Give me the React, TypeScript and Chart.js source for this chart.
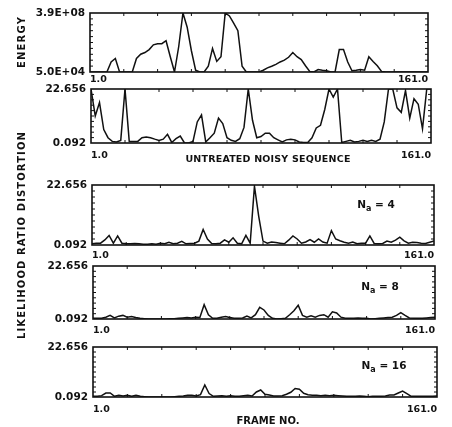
import React, { useEffect, useRef } from 'react';
import { Chart, registerables } from 'chart.js';

Chart.register(...registerables);

const W = 452;
const H = 427;
const FONT = '"DejaVu Sans", sans-serif';
const INK = '#111111';

// frame numbers (every second frame)
const frames = [
  1, 3, 5, 7, 9, 11, 13, 15, 17, 19, 21, 23, 25, 27, 29, 31, 33, 35, 37, 39,
  41, 43, 45, 47, 49, 51, 53, 55, 57, 59, 61, 63, 65, 67, 69, 71, 73, 75, 77, 79,
  81, 83, 85, 87, 89, 91, 93, 95, 97, 99, 101, 103, 105, 107, 109, 111, 113, 115, 117, 119,
  121, 123, 125, 127, 129, 131, 133, 135, 137, 139, 141, 143, 145, 147, 149, 151, 153, 155, 157, 159,
  161,
];
const xTickValues = [1, 161];
const energyRange = [5.0e4, 3.9e8];
const distortionRange = [0.092, 22.656];

const energy = [
  5e4, 5e4, 5e4, 5e4, 5e4, 2.3e5, 3.9e5, 5e4, 5e4, 5e4,
  5e4, 3.9e5, 7.4e5, 9.6e5, 1.5e6, 3.1e6, 3.7e6, 3.7e6, 5.8e6, 5.1e5,
  5e4, 2.4e6, 3.9e8, 4.5e7, 1.26e6, 6.5e4, 5e4, 5e4, 1.2e5, 1.8e6,
  2.5e5, 5.1e5, 3.9e8, 2.5e8, 8.5e7, 2.65e7, 1.2e5, 5e4, 5e4, 5e4,
  5e4, 6.5e4, 9.4e4, 1.2e5, 1.6e5, 2.3e5, 3.0e5, 4.7e5, 9.6e5, 5.1e5,
  3.3e5, 1.3e5, 5.5e4, 5e4, 7.2e4, 6.5e4, 6.0e4, 5e4, 5e4, 1.5e6,
  1.5e6, 2.3e5, 6.0e4, 6.5e4, 7.2e4, 6.5e4, 5.1e5, 2.5e5, 1.3e5, 5.5e4,
  5e4, 5e4, 5e4, 5e4, 5e4, 5e4, 5e4, 5e4, 5e4, 5e4,
  5e4,
];

const untreated = [
  22.66, 11.4, 17.0, 5.7, 2.3, 0.77, 0.54, 1.2, 22.66, 0.77,
  0.77, 0.77, 2.3, 2.6, 2.3, 1.7, 1.2, 1.7, 3.7, 0.32,
  1.9, 3.0, 0.092, 0.092, 0.77, 8.9, 11.8, 0.54, 2.3, 4.2,
  10.5, 8.2, 2.3, 1.2, 0.77, 1.9, 6.6, 22.66, 9.6, 2.3,
  2.8, 4.2, 4.2, 2.3, 1.4, 0.54, 1.4, 1.7, 1.4, 0.54,
  0.32, 0.32, 2.3, 6.4, 7.5, 14.1, 22.66, 19.3, 22.66, 0.32,
  0.77, 1.2, 0.54, 0.77, 1.2, 0.77, 1.2, 0.77, 1.7, 8.9,
  22.66, 22.66, 14.8, 12.9, 22.0, 10.5, 18.6, 16.3, 6.0, 22.66,
  22.66,
];

const na4 = [
  0.54, 0.77, 0.77, 2.0, 3.7, 0.77, 3.5, 0.77, 0.54, 0.54,
  0.68, 0.54, 0.39, 0.39, 0.54, 0.39, 0.77, 0.54, 1.13, 0.54,
  0.77, 1.45, 0.54, 0.68, 0.77, 1.56, 5.96, 2.35, 0.68, 0.54,
  0.77, 2.0, 1.13, 2.8, 0.77, 0.54, 3.7, 0.77, 22.2, 10.9,
  1.56, 0.77, 1.22, 1.0, 0.77, 0.54, 1.9, 3.5, 2.35, 0.77,
  1.22, 2.12, 1.13, 2.35, 1.22, 0.77, 5.5, 2.35, 1.67, 1.13,
  0.77, 1.22, 0.54, 0.77, 0.77, 3.5, 0.68, 0.54, 0.68, 1.56,
  1.13, 1.9, 3.03, 1.67, 0.77, 1.13, 1.0, 0.77, 0.68, 1.13,
  1.56,
];

const na8 = [
  0.41, 0.41, 0.41, 0.86, 1.63, 0.54, 1.31, 1.63, 0.86, 1.15,
  0.70, 0.41, 0.25, 0.092, 0.092, 0.092, 0.092, 0.092, 0.25, 0.25,
  0.41, 0.54, 0.70, 0.54, 0.86, 0.70, 6.18, 1.92, 0.41, 0.41,
  0.86, 1.15, 0.70, 0.41, 0.41, 0.54, 1.31, 0.54, 1.92, 5.06,
  3.93, 1.63, 0.41, 0.092, 0.25, 0.41, 1.92, 3.59, 5.96, 1.63,
  0.86, 1.47, 0.86, 1.63, 1.92, 0.86, 3.14, 2.69, 0.86, 0.41,
  0.41, 0.41, 0.54, 0.41, 0.41, 0.092, 0.25, 0.41, 0.54, 0.70,
  0.86, 1.63, 2.8, 1.63, 0.54, 0.41, 0.41, 0.41, 0.54, 0.70,
  0.86,
];

const na16 = [
  0.41, 0.41, 0.70, 1.9, 1.9, 0.41, 0.86, 0.54, 0.86, 0.41,
  0.86, 0.41, 0.25, 0.092, 0.092, 0.092, 0.092, 0.092, 0.092, 0.25,
  0.41, 0.54, 0.86, 0.86, 0.54, 1.15, 5.5, 1.63, 0.41, 0.54,
  0.70, 0.41, 0.70, 0.41, 0.41, 0.70, 0.86, 0.54, 2.35, 3.25,
  1.31, 1.0, 0.54, 0.54, 0.70, 1.31, 2.23, 3.93, 3.59, 1.76,
  1.15, 0.86, 0.86, 0.70, 0.86, 0.70, 0.86, 0.70, 0.54, 0.41,
  0.41, 0.41, 0.54, 0.41, 0.25, 0.41, 0.41, 0.41, 0.54, 1.0,
  1.0, 1.9, 2.8, 1.63, 0.41, 0.41, 0.41, 0.41, 0.41, 0.41,
  0.54,
];

function fmtExp(v: number) {
  const [m, e] = v.toExponential(1).split('e');
  const sign = e[0] === '-' ? '-' : '+';
  const d = e.replace(/[+-]/, '').padStart(2, '0');
  return `${m}E${sign}${d}`;
}

const frameTicks = {
  id: 'frameTicks',
  afterDraw(chart: any) {
    const { ctx, chartArea: a, scales } = chart;
    const xs = scales.x;
    ctx.save();
    ctx.strokeStyle = INK;
    ctx.lineWidth = 1.6;
    ctx.strokeRect(a.left, a.top, a.right - a.left, a.bottom - a.top);
    ctx.lineWidth = 1;
    ctx.beginPath();
    for (let i = 1; i < 10; i++) {
      const y = a.top + ((a.bottom - a.top) * i) / 10;
      ctx.moveTo(a.left, y);
      ctx.lineTo(a.left + 3, y);
      ctx.moveTo(a.right, y);
      ctx.lineTo(a.right - 3, y);
    }
    for (let f = 17; f < 161; f += 16) {
      const x = xs.getPixelForValue(f);
      ctx.moveTo(x, a.top);
      ctx.lineTo(x, a.top + 3);
      ctx.moveTo(x, a.bottom);
      ctx.lineTo(x, a.bottom - 3);
    }
    ctx.stroke();
    ctx.restore();
  },
};

type PanelDef = {
  values: number[];
  log: boolean;
  range: number[];
  left: number;
  right: number;
  top: number;
  bottom: number;
  xPad: number;
};

const XH = 24;

const panels: PanelDef[] = [
  { values: energy, log: true, range: energyRange, left: 90, right: 428, top: 13, bottom: 72, xPad: 2 },
  { values: untreated, log: false, range: distortionRange, left: 91, right: 431, top: 89, bottom: 143, xPad: 7 },
  { values: na4, log: false, range: distortionRange, left: 92, right: 434, top: 185, bottom: 245, xPad: 5 },
  { values: na8, log: false, range: distortionRange, left: 93, right: 435, top: 266, bottom: 319, xPad: 6 },
  { values: na16, log: false, range: distortionRange, left: 93, right: 437, top: 347, bottom: 397, xPad: 7 },
];

function Panel({ p }: { p: PanelDef }) {
  const ref = useRef<HTMLCanvasElement>(null);
  useEffect(() => {
    const chart = new Chart(ref.current as HTMLCanvasElement, {
      type: 'line',
      data: {
        datasets: [
          {
            data: frames.map((f, i) => ({ x: f, y: p.values[i] })),
            borderColor: INK,
            borderWidth: 1.5,
            pointRadius: 0,
            tension: 0,
            fill: false,
          },
        ],
      },
      options: {
        animation: false,
        responsive: false,
        devicePixelRatio: 1,
        plugins: { legend: { display: false }, tooltip: { enabled: false } },
        layout: {
          padding: { left: 0, top: p.top, right: W - p.right, bottom: H - p.bottom - XH },
        },
        scales: {
          x: {
            type: 'linear',
            min: 1,
            max: 161,
            grid: { display: false, drawTicks: false },
            border: { display: false },
            afterBuildTicks: (s: any) => {
              s.ticks = xTickValues.map((v) => ({ value: v }));
            },
            afterFit: (s: any) => {
              s.height = XH;
            },
            ticks: {
              callback: (v: any) => Number(v).toFixed(1),
              align: 'inner',
              maxRotation: 0,
              minRotation: 0,
              autoSkip: false,
              padding: p.xPad,
              color: INK,
              font: { family: FONT, size: 9.5, weight: 'bold' },
            },
          },
          y: {
            type: p.log ? 'logarithmic' : 'linear',
            min: p.range[0],
            max: p.range[1],
            grid: { display: false, drawTicks: false },
            border: { display: false },
            afterBuildTicks: (s: any) => {
              s.ticks = p.range.map((v) => ({ value: v }));
            },
            afterFit: (s: any) => {
              s.width = p.left;
            },
            ticks: {
              callback: (v: any) => (p.log ? fmtExp(Number(v)) : Number(v).toFixed(3)),
              autoSkip: false,
              padding: 5,
              color: INK,
              font: { family: FONT, size: 10.5, weight: 'bold' },
            },
          },
        },
      } as any,
      plugins: [frameTicks],
    });
    return () => chart.destroy();
  }, []);
  return (
    <canvas
      ref={ref}
      width={W}
      height={H}
      style={{ position: 'absolute', left: 0, top: 0, width: W, height: H }}
    />
  );
}

const textBase: React.CSSProperties = {
  position: 'absolute',
  fontFamily: FONT,
  fontWeight: 'bold',
  color: INK,
  whiteSpace: 'nowrap',
  lineHeight: 1,
};

function VLabel({ text, cx, cy, spacing }: { text: string; cx: number; cy: number; spacing: number }) {
  return (
    <div
      style={{
        ...textBase,
        left: cx,
        top: cy,
        fontSize: 10,
        letterSpacing: spacing,
        transform: 'translate(-50%, -50%) rotate(-90deg)',
      }}
    >
      {text}
    </div>
  );
}

function HLabel({ children, cx, cy, spacing, size }: any) {
  return (
    <div
      style={{
        ...textBase,
        left: cx,
        top: cy,
        fontSize: size || 10,
        letterSpacing: spacing || 0,
        transform: 'translate(-50%, -50%)',
      }}
    >
      {children}
    </div>
  );
}

function Na({ n, cx, cy }: { n: string; cx: number; cy: number }) {
  return (
    <HLabel cx={cx} cy={cy} size={10.5}>
      N<sub style={{ fontSize: 8, verticalAlign: 'sub', lineHeight: 0 }}>a</sub> = {n}
    </HLabel>
  );
}

export default function App() {
  return (
    <div style={{ position: 'absolute', left: 0, top: 0, width: W, height: H, background: '#fff', overflow: 'hidden' }}>
      {panels.map((p, i) => (
        <Panel key={i} p={p} />
      ))}
      <VLabel text="ENERGY" cx={22} cy={42} spacing={1.2} />
      <VLabel text="LIKELIHOOD RATIO DISTORTION" cx={22} cy={235} spacing={1.1} />
      <HLabel cx={268} cy={159} size={9.5} spacing={0.2}>UNTREATED NOISY SEQUENCE</HLabel>
      <HLabel cx={268} cy={421}>FRAME NO.</HLabel>
      <Na n="4" cx={376} cy={204} />
      <Na n="8" cx={380} cy={286} />
      <Na n="16" cx={384} cy={365} />
    </div>
  );
}
